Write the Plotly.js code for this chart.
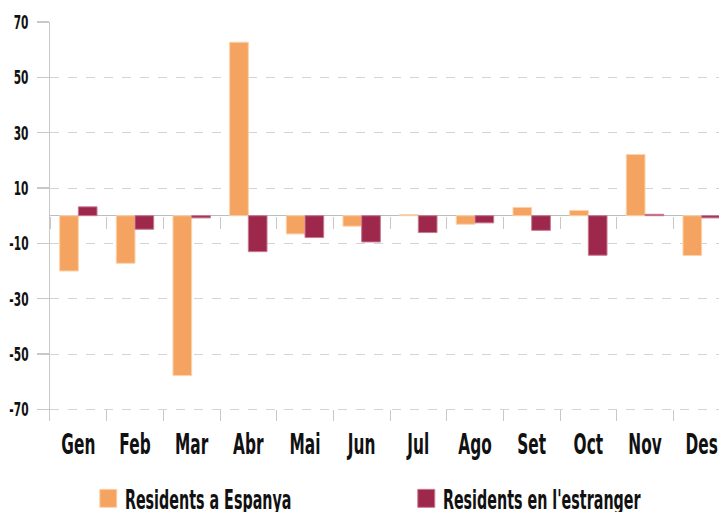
<!DOCTYPE html>
<html>
<head>
<meta charset="utf-8">
<script src="https://cdn.plot.ly/plotly-3.0.1.min.js"></script>
<style>
html,body{margin:0;padding:0;overflow:hidden;background:#fff;width:719px;height:512px;}
#chart{width:730px;height:512px;}
</style>
</head>
<body>
<div id="chart"></div>
<script>
const months = ["Gen","Feb","Mar","Abr","Mai","Jun","Jul","Ago","Set","Oct","Nov","Des"];
const residentsEspanya = [-20, -17.2, -57.8, 62.7, -6.6, -3.8, 0.4, -3.1, 3.0, 1.9, 22.1, -14.4];
const residentsEstranger = [3.2, -4.9, -0.8, -13.0, -7.9, -9.5, -6.1, -2.6, -5.3, -14.3, 0.5, -0.8];
const yTicks = [70, 50, 30, 10, -10, -30, -50, -70];
const seriesNames = ["Residents a Espanya", "Residents en l'estranger"];

const FONT = '"DejaVu Sans", sans-serif';

const traces = [
  {type:'bar', name:seriesNames[0], x:months, y:residentsEspanya,
   marker:{color:'#F4A460', line:{color:'#FBD3AA', width:1}}},
  {type:'bar', name:seriesNames[1], x:months, y:residentsEstranger,
   marker:{color:'#9E284C', line:{color:'#C77A92', width:1}}}
];

const layout = {
  width:730, height:512,
  margin:{l:50, r:0, t:22, b:91, autoexpand:false},
  paper_bgcolor:'#fff', plot_bgcolor:'#fff',
  barmode:'group', bargap:0.34, bargroupgap:0,
  showlegend:true,
  legend:{orientation:'h', x:0.0563, xanchor:'left', y:-0.195, yanchor:'middle',
          font:{family:FONT, size:27, color:'#111', weight:'bold'},
          entrywidth:273, entrywidthmode:'pixels', traceorder:'normal'},
  xaxis:{type:'category', categoryarray:months, range:[-0.5, 11.5],
         showline:false, showgrid:false, zeroline:false,
         ticks:'inside', ticklen:11, tickcolor:'#c8c8c8', tickwidth:1, tickson:'boundaries',
         ticklabelstandoff:3, tickangle:0,
         tickfont:{family:FONT, size:29, color:'#111', weight:'bold'}},
  xaxis2:{type:'category', categoryarray:months, range:[-0.5, 11.5], overlaying:'x',
          anchor:'free', position:0.5145, side:'bottom',
          showline:false, showgrid:false, zeroline:false, showticklabels:false,
          ticks:'outside', ticklen:12, tickcolor:'#c8c8c8', tickwidth:1, tickson:'boundaries'},
  yaxis:{range:[-74.2, 70], tickvals:yTicks, ticktext:yTicks.map(String),
         showline:true, linecolor:'#c8c8c8', linewidth:1.5,
         ticks:'outside', ticklen:12, tickcolor:'#c8c8c8', tickwidth:1.5,
         ticklabelstandoff:4,
         showgrid:true, gridcolor:'#d4d4d4', griddash:'dash', gridwidth:1,
         zeroline:true, zerolinecolor:'#bdbdbd', zerolinewidth:1.5,
         tickfont:{family:FONT, size:20, color:'#111', weight:'bold'}}
};

const gd = document.getElementById('chart');
Plotly.newPlot(gd, traces.concat([{type:'bar', x:months, y:months.map(()=>null), xaxis:'x2', showlegend:false, hoverinfo:'skip'}]), layout, {displayModeBar:false, staticPlot:true}).then(() => {
  // enlarge legend swatches and pull legend text closer
  gd.querySelectorAll('.legend .legendpoints path').forEach(p => p.setAttribute('d', 'M8.5,9H-8.5V-9H8.5Z'));
  gd.querySelectorAll('.legend text.legendtext').forEach(t => t.setAttribute('x', '36.6'));
  // condense all text horizontally to mimic a narrow display face
  const ref = gd.querySelector('.legend text.legendtext');
  const s = ref ? 166.7 / ref.getBBox().width : 0.6;
  gd.querySelectorAll('.main-svg text').forEach(t => {
    const x = parseFloat(t.getAttribute('x') || '0');
    const tr = t.getAttribute('transform') || '';
    t.setAttribute('transform', tr + ` translate(${x},0) scale(${s},1) translate(${-x},0)`);
  });
});
</script>
</body>
</html>
